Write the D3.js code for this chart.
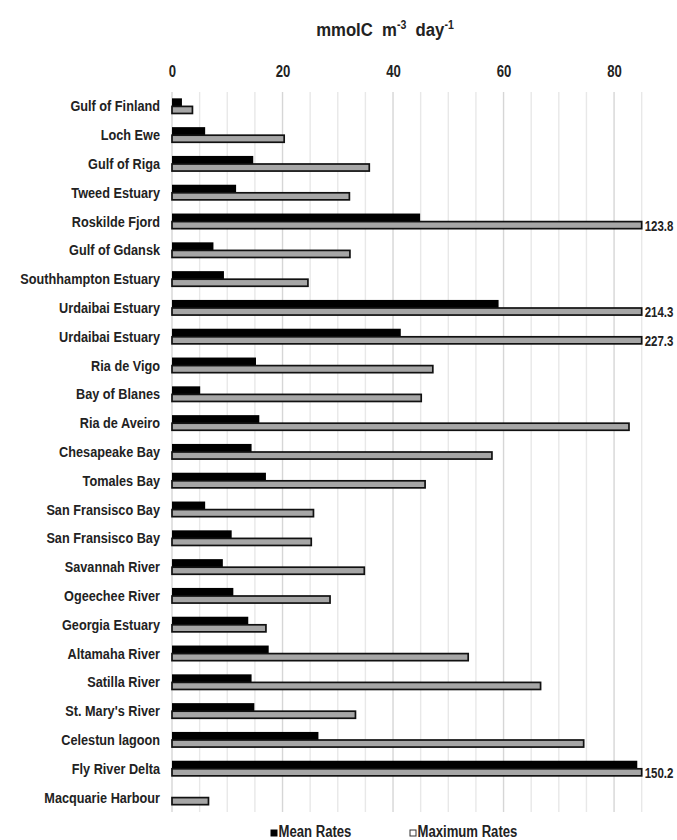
<!DOCTYPE html>
<html>
<head>
<meta charset="utf-8">
<script src="https://cdn.jsdelivr.net/npm/d3@7"></script>
<style>
  html, body { margin: 0; padding: 0; background: #fff; }
  svg { display: block; font-family: "Liberation Sans", Arial, sans-serif; font-weight: bold; }
  text { white-space: pre; }
</style>
</head>
<body>
<svg id="chart" width="677" height="840"></svg>
<script>
// Sites, top to bottom
const categories = [
  "Gulf of Finland", "Loch Ewe", "Gulf of Riga", "Tweed Estuary", "Roskilde Fjord",
  "Gulf of Gdansk", "Southhampton Estuary", "Urdaibai Estuary", "Urdaibai Estuary",
  "Ria de Vigo", "Bay of Blanes", "Ria de Aveiro", "Chesapeake Bay", "Tomales Bay",
  "San Fransisco Bay", "San Fransisco Bay", "Savannah River", "Ogeechee River",
  "Georgia Estuary", "Altamaha River", "Satilla River", "St. Mary's River",
  "Celestun lagoon", "Fly River Delta", "Macquarie Harbour"
];

// Mean respiration rates (mmolC m-3 day-1)
const meanRates = [
  1.8, 6.0, 14.7, 11.6, 44.9,
  7.5, 9.4, 59.1, 41.4,
  15.2, 5.1, 15.8, 14.4, 17.0,
  6.0, 10.8, 9.2, 11.1,
  13.8, 17.5, 14.4, 14.9,
  26.5, 84.2, 0
];

// Maximum respiration rates (mmolC m-3 day-1)
const maxRates = [
  3.7, 20.3, 35.7, 32.1, 123.8,
  32.2, 24.6, 214.3, 227.3,
  47.2, 45.1, 82.7, 57.9, 45.8,
  25.6, 25.2, 34.8, 28.6,
  17.0, 53.6, 66.7, 33.2,
  74.5, 150.2, 6.6
];

const xTicks = [0, 20, 40, 60, 80];
const seriesNames = ["Mean Rates", "Maximum Rates"];
const axisMax = 85;

// Horizontal squeeze that gives the regular sans a narrow-face look
function narrow(sel, sx = 0.82) {
  sel.each(function () {
    const t = d3.select(this);
    const x0 = +t.attr("x") || 0;
    t.attr("x", x0 / sx).attr("transform", `scale(${sx},1)`);
  });
}

const svg = d3.select("#chart");
const plotLeft = 172, plotRight = 641.7, plotTop = 92, plotBottom = 812;

const x = d3.scaleLinear().domain([0, axisMax]).range([plotLeft, plotRight]).clamp(true);
const y = d3.scaleBand()
  .domain(d3.range(categories.length))
  .range([plotTop, plotBottom])
  .paddingInner(0.44)
  .paddingOuter(0.22);
const ySub = d3.scaleBand().domain([0, 1]).range([0, y.bandwidth()]);

// Vertical gridlines every 5 units; the labelled ones slightly darker
svg.append("g").selectAll("line")
  .data(d3.range(0, axisMax + 0.1, 5))
  .join("line")
  .attr("x1", d => x(d)).attr("x2", d => x(d))
  .attr("y1", plotTop).attr("y2", plotBottom)
  .attr("stroke", d => d % 20 === 0 ? "#d6d6d6" : "#e8e8e8")
  .attr("stroke-width", 1.4);

// Top axis labels
const xAxis = svg.append("g")
  .attr("transform", `translate(0,${plotTop})`)
  .call(d3.axisTop(x).tickValues(xTicks).tickSize(0).tickPadding(15))
  .call(g => g.select(".domain").remove());
xAxis.selectAll("text")
  .attr("font-size", 16).attr("font-weight", "bold").attr("fill", "#222")
  .attr("font-family", "inherit")
  .call(narrow);

// Unit title
const titleG = svg.append("g").attr("transform", "translate(385,36)");
const title = titleG.append("text")
  .attr("text-anchor", "middle")
  .attr("font-size", 19).attr("fill", "#222");
title.append("tspan").text("mmolC  m");
title.append("tspan").attr("font-size", 12).attr("dy", -7).text("-3");
title.append("tspan").attr("dy", 7).text("  day");
title.append("tspan").attr("font-size", 12).attr("dy", -7).text("-1");
narrow(title, 0.88);

// Category labels
const yAxis = svg.append("g")
  .attr("transform", `translate(${plotLeft},0)`)
  .call(d3.axisLeft(y).tickFormat(i => categories[i]).tickSize(0).tickPadding(12))
  .call(g => g.select(".domain").remove());
yAxis.selectAll("text")
  .attr("font-size", 15.5).attr("font-weight", "bold").attr("fill", "#222")
  .attr("font-family", "inherit")
  .call(narrow);

// Mean bars (black)
svg.append("g").selectAll("rect")
  .data(meanRates.map((v, i) => ({ v, i })).filter(d => d.v > 0))
  .join("rect")
  .attr("x", x(0))
  .attr("y", d => y(d.i) + ySub(0))
  .attr("width", d => x(d.v) - x(0))
  .attr("height", ySub.bandwidth())
  .attr("fill", "#000");

// Maximum bars (grey, black outline)
svg.append("g").selectAll("rect")
  .data(maxRates.map((v, i) => ({ v, i })))
  .join("rect")
  .attr("x", x(0))
  .attr("y", d => y(d.i) + ySub(1))
  .attr("width", d => x(d.v) - x(0))
  .attr("height", ySub.bandwidth() - 1)
  .attr("fill", "#a6a6a6")
  .attr("stroke", "#111")
  .attr("stroke-width", 1.7);

// Values for bars running past the axis
svg.append("g").selectAll("text")
  .data(maxRates.map((v, i) => ({ v, i })).filter(d => d.v > axisMax))
  .join("text")
  .attr("x", x(axisMax) + 3)
  .attr("y", d => y(d.i) + ySub(1) + ySub.bandwidth() / 2)
  .attr("dy", "0.35em")
  .attr("font-size", 14).attr("fill", "#222")
  .text(d => d3.format(".1f")(d.v))
  .call(narrow);

// Legend
const legend = svg.append("g").attr("transform", "translate(0,837)");
const legendX = [271, 410];
seriesNames.forEach((name, k) => {
  const g = legend.append("g").attr("transform", `translate(${legendX[k]},0)`);
  g.append("rect")
    .attr("x", 0).attr("y", -7).attr("width", 6).attr("height", 6)
    .attr("fill", k === 0 ? "#000" : "#fff")
    .attr("stroke", k === 0 ? "#000" : "#333").attr("stroke-width", 1);
  g.append("text")
    .attr("x", 7.5).attr("y", 0)
    .attr("font-size", 16).attr("fill", "#222")
    .text(name)
    .call(narrow);
});
</script>
</body>
</html>
